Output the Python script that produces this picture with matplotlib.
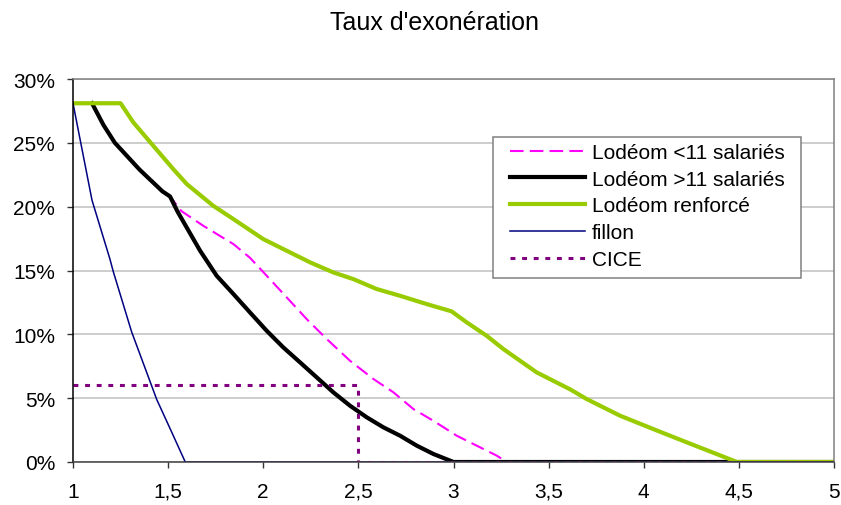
import numpy as np
import matplotlib
matplotlib.use('Agg')
import matplotlib.pyplot as plt
from matplotlib.patches import Rectangle

plt.rcParams['font.family'] = ['Liberation Sans', 'DejaVu Sans']

# series (x = salaire / SMIC, y = taux en %)
x_lodeom_moins11 = [1.0, 1.10, 1.16, 1.22, 1.35, 1.47, 1.51, 1.57, 1.685, 1.843, 1.930, 2.018, 2.123,
                    2.228, 2.334, 2.456, 2.579, 2.684, 2.789, 2.894, 3.017, 3.122, 3.227, 3.28, 5.0]
y_lodeom_moins11 = [28.1, 28.1, 26.4, 25.0, 22.9, 21.2, 20.8, 19.65, 18.5, 17.07, 16.0, 14.59, 12.9,
                    11.2, 9.63, 7.93, 6.5, 5.46, 4.15, 3.23, 2.06, 1.28, 0.5, 0.0, 0.0]

x_lodeom_plus11 = [1.10, 1.16, 1.22, 1.35, 1.47, 1.51, 1.55, 1.668, 1.755, 1.843, 1.930, 2.018, 2.105,
                   2.193, 2.281, 2.368, 2.456, 2.544, 2.631, 2.719, 2.807, 2.894, 3.0, 5.0]
y_lodeom_plus11 = [28.1, 26.4, 25.0, 22.9, 21.2, 20.8, 19.6, 16.55, 14.59, 13.16, 11.72, 10.28, 8.98,
                   7.81, 6.63, 5.46, 4.41, 3.5, 2.72, 2.06, 1.28, 0.63, 0.0, 0.0]

x_lodeom_renforce = [1.0, 1.25, 1.317, 1.422, 1.527, 1.598, 1.737, 1.843, 2.0, 2.123, 2.246, 2.368,
                     2.473, 2.596, 2.719, 2.859, 2.99, 3.069, 3.174, 3.262, 3.437, 3.612, 3.70,
                     3.875, 4.05, 4.226, 4.49, 5.0]
y_lodeom_renforce = [28.1, 28.1, 26.6, 24.77, 22.94, 21.77, 20.07, 19.03, 17.46, 16.55, 15.64, 14.85,
                     14.33, 13.55, 13.02, 12.37, 11.8, 10.94, 9.89, 8.85, 7.02, 5.7, 4.93,
                     3.63, 2.58, 1.54, 0.0, 0.0]

x_fillon = [1.0, 1.10, 1.194, 1.212, 1.308, 1.44, 1.52, 1.59, 5.0]
y_fillon = [28.1, 20.5, 15.9, 14.9, 10.2, 4.9, 2.3, 0.0, 0.0]

x_cice = [1.0, 2.5, 2.5, 5.0]
y_cice = [6.0, 6.0, 0.0, 0.0]

labels = ['Lodéom <11 salariés', 'Lodéom >11 salariés', 'Lodéom renforcé', 'fillon', 'CICE']
xticks = np.arange(1, 5.01, 0.5)
yticks = np.arange(0, 31, 5)

W, H = 841, 506
x0, x1, y0, y1 = 73, 834, 80, 463  # plot area in pixels
fig = plt.figure(figsize=(W / 100, H / 100), dpi=100)
ax = fig.add_axes([x0 / W, 1 - y1 / H, (x1 - x0) / W, (y1 - y0) / H])

def to_ax(px, py):
    return (px - x0) / (x1 - x0), (y1 - py) / (y1 - y0)

ax.plot(x_lodeom_moins11, y_lodeom_moins11, color='#FF00FF', lw=1.5, dashes=(6.5, 3), label=labels[0])
ax.plot(x_lodeom_plus11, y_lodeom_plus11, color='black', lw=3, label=labels[1])
ax.plot(x_lodeom_renforce, y_lodeom_renforce, color='#99CC00', lw=3, label=labels[2])
ax.plot(x_fillon, y_fillon, color='#000080', lw=1.1, label=labels[3])
ax.plot(x_cice, y_cice, color='#800080', lw=2.2, dashes=(1.6, 2.2), label=labels[4])

ax.set_xlim(1, 5)
ax.set_ylim(0, 30)
ax.set_xticks(xticks)
ax.set_xticklabels([('%g' % v).replace('.', ',') for v in xticks])
ax.set_yticks(yticks)
ax.set_yticklabels(['%d%%' % v for v in yticks])
ax.tick_params(direction='out', length=4.3, width=1, labelsize=15, colors='#333333', labelcolor='black')
ax.tick_params(axis='y', pad=8.5)
ax.tick_params(axis='x', pad=10)

ax.grid(axis='y', color='#C0C0C0', lw=1.1)
ax.set_axisbelow(True)
ax.spines['left'].set_color('black')
ax.spines['bottom'].set_color('#404040')
ax.spines['top'].set_color('#808080')
ax.spines['right'].set_color('#808080')
for s in ax.spines.values():
    s.set_linewidth(1.1)

# legend box drawn separately so its padding matches the original
bx, by = to_ax(493, 279)
bx2, by2 = to_ax(801, 138)
ax.add_patch(Rectangle((bx, by), bx2 - bx, by2 - by, transform=ax.transAxes,
                       facecolor='white', edgecolor='#808080', lw=1.1, zorder=4))
leg = ax.legend(loc='upper left', bbox_to_anchor=to_ax(510, 144), fontsize=15, frameon=False,
                borderaxespad=0, borderpad=0, handlelength=3.6, handletextpad=0.34,
                labelspacing=0.37)
leg.set_zorder(5)

fig.text(434 / W, 1 - 30 / H, "Taux d'exonération", ha='center', va='baseline', fontsize=18)

fig.savefig('out.png', dpi=100)
